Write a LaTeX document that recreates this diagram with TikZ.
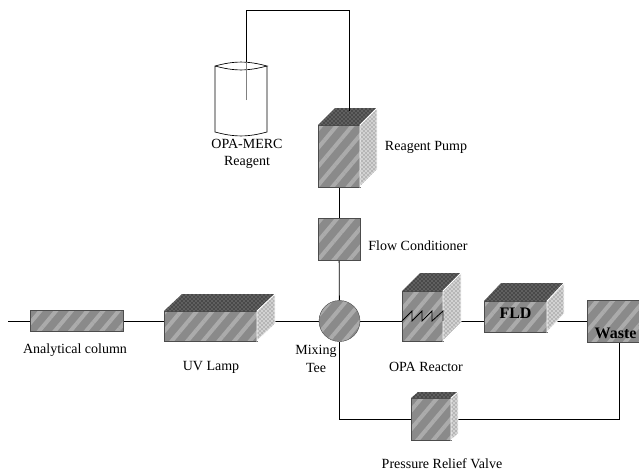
\documentclass[tikz,border=0pt]{standalone}
\usepackage{fontspec}
\setmainfont{Liberation Serif}
\usetikzlibrary{patterns,patterns.meta,backgrounds}

% top and side faces behind a front node
\newcommand{\boxfaces}[3]{
    \path[topface] (#1.north west) -- +(#2,-#3) -- ([shift={(#2,-#3)}]#1.north east) -- (#1.north east) -- cycle;
    \path[sideface] (#1.north east) -- ([shift={(#2,-#3)}]#1.north east) -- ([shift={(#2,-#3)}]#1.south east) -- (#1.south east) -- cycle;
}

\begin{document}
\begin{tikzpicture}[
        x=0.75pt, y=-0.75pt,
        every node/.style={font=\fontsize{10.5}{13}\selectfont, align=center},
        hatched/.style={preaction={fill=gray!92}, pattern={Lines[angle=50,distance=9pt,line width=3pt]}, pattern color=gray!66, draw=gray!60!black, line width=0.3pt},
        frontbox/.style={rectangle, hatched, inner sep=0pt, outer sep=0pt},
        topface/.style={preaction={fill=gray!75!black}, pattern=crosshatch dots, pattern color=black},
        sideface/.style={preaction={fill=gray!35}, pattern=crosshatch dots, pattern color=gray!70!black, draw=white, line width=0.6pt},
        pipe/.style={draw, line width=0.6pt},
        boldtext/.style={font=\fontsize{12}{15}\selectfont\bfseries}
    ]
        \useasboundingbox (0,0) rectangle (639,471);
        \clip (0,0) rectangle (639,471);

        % Boxes
        \node[frontbox, minimum width=69.75pt, minimum height=15.75pt] (column) at (76.5,321) {};
        \node[frontbox, minimum width=69.75pt, minimum height=22.5pt] (lamp) at (210.5,326) {};
        \node[circle, hatched, inner sep=0pt, outer sep=0pt, minimum size=30.75pt] (tee) at (339.5,321) {};
        \node[frontbox, minimum width=30.75pt, minimum height=37.5pt] (reactor) at (422.5,316) {};
        \node[frontbox, minimum width=47.25pt, minimum height=23.25pt] (fld) at (515.5,316.5) {};
        \node[frontbox, minimum width=47.25pt, minimum height=31.5pt] (waste) at (618.5,321) {};
        \node[frontbox, minimum width=30pt, minimum height=31.5pt] (valve) at (431,419) {};
        \node[frontbox, minimum width=31.5pt, minimum height=46.5pt] (pump) at (339,156) {};
        \node[frontbox, minimum width=31.5pt, minimum height=31.5pt] (conditioner) at (339,239) {};
        \node[inner sep=0pt, outer sep=0pt, minimum width=39pt, minimum height=49.5pt] (tank) at (241,99) {};
        \draw[line width=0.5pt] (tank.north west) to[bend left=15] (tank.north east) to[bend left=15] (tank.north west) -- (tank.south west) to[bend right=15] (tank.south east) -- (tank.north east);

        \boxfaces{lamp}{18}{17}
        \boxfaces{reactor}{18}{18}
        \boxfaces{fld}{17}{18}
        \boxfaces{valve}{7}{6}
        \boxfaces{pump}{17}{17}

        \coordinate (inlet) at (8,321);
        \coordinate (dip) at (246,100);
        \coordinate (tubeleft) at (246,10);
        \coordinate (tuberight) at (349,10);
        \coordinate (pumptop) at (349,111);
        \coordinate (teecorner) at (339.5,419);
        \coordinate (wastecorner) at (619,419);
        \coordinate (wastefoot) at (619,342);

        % Pipes
        \begin{pgfonlayer}{background}
        \draw[pipe] (inlet) -- (column);
        \draw[pipe] (column) -- (lamp.west |- column);
        \draw[pipe] (lamp.east |- column) -- (tee);
        \draw[pipe] (tee) -- (reactor.west |- tee);
        \draw[pipe] (reactor.east |- tee) -- (fld.west |- tee);
        \draw[pipe] (fld.east |- tee) -- (waste.west |- tee);
        \draw[pipe] (pump) -- (conditioner);
        \draw[pipe] (conditioner) -- (tee);
        \draw[pipe] (tee) -- (teecorner) -- (valve);
        \draw[pipe] (valve) -- (wastecorner) -- (wastefoot);
        \end{pgfonlayer}
        \draw[pipe, gray] (dip) -- (246,62);
        \draw[pipe] (246,62) -- (tubeleft) -- (tuberight) -- (pumptop);

        % Reactor coil
        \draw[pipe] (reactor.west |- tee) -- ++(10,-10) -- ++(0,10) -- ++(10,-10) -- ++(0,10) -- ++(10,-10) -- ++(0,10) -- ++(11,-10) -- ++(0,10);

        % Labels
        \node[boldtext] (fldtext) at (515.5,313) {FLD};
        \node[boldtext, anchor=west] (wastetext) at (590,333) {Waste};
        \node (columnlabel) at (75,350) {Analytical column};
        \node (lamplabel) at (211,367) {UV Lamp};
        \node (teelabel) at (316,359) {Mixing\\Tee};
        \node (reactorlabel) at (426,367) {OPA Reactor};
        \node (valvelabel) at (442,464) {Pressure Relief Valve};
        \node (tanklabel) at (247,154) {OPA-MERC\\Reagent};
        \node (pumplabel) at (426,147) {Reagent Pump};
        \node (conditionerlabel) at (418,246) {Flow Conditioner};
\end{tikzpicture}
\end{document}
